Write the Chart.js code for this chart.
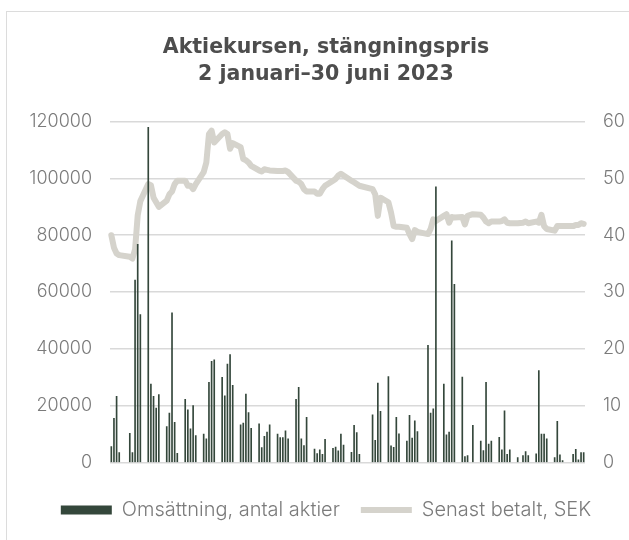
<!DOCTYPE html>
<html lang="sv">
<head>
  <meta charset="UTF-8" />
  <title>Aktiekursen</title>
  <script src="https://cdn.jsdelivr.net/npm/chart.js"></script>
  <style>
    html, body { margin: 0; padding: 0; background: #fff; overflow: hidden; }
    .frame { position: absolute; left: 6px; top: 11px; width: 700px; height: 600px; border: 1px solid #dcdcdc; }
    #wrap { position: absolute; left: 0; top: 0; width: 652px; height: 540px; }
  </style>
</head>
<body>
  <div class="frame"></div>
  <div id="wrap"><canvas id="chart" width="652" height="540"></canvas></div>

  <script>
    // trading days (MM-DD), 2023
    const tradingDays = [
      '01-02','01-03','01-04','01-05',
      '01-09','01-10','01-11','01-12','01-13',
      '01-16','01-17','01-18','01-19','01-20',
      '01-23','01-24','01-25','01-26','01-27',
      '01-30','01-31','02-01','02-02','02-03',
      '02-06','02-07','02-08','02-09','02-10',
      '02-13','02-14','02-15','02-16','02-17',
      '02-20','02-21','02-22','02-23','02-24',
      '02-27','02-28','03-01','03-02','03-03',
      '03-06','03-07','03-08','03-09','03-10',
      '03-13','03-14','03-15','03-16','03-17',
      '03-20','03-21','03-22','03-23','03-24',
      '03-27','03-28','03-29','03-30','03-31',
      '04-03','04-04','04-05','04-06',
      '04-11','04-12','04-13','04-14',
      '04-17','04-18','04-19','04-20','04-21',
      '04-24','04-25','04-26','04-27','04-28',
      '05-02','05-03','05-04','05-05',
      '05-08','05-09','05-10','05-11','05-12',
      '05-15','05-16','05-17','05-19',
      '05-22','05-23','05-24','05-25','05-26',
      '05-29','05-30','05-31','06-01','06-02',
      '06-05','06-07','06-08','06-09',
      '06-12','06-13','06-14','06-15','06-16',
      '06-19','06-20','06-21','06-22',
      '06-26','06-27','06-28','06-29','06-30'
    ];

    // Omsättning, antal aktier
    const volume = [
      5600, 15600, 23300, 3500,
      10300, 3500, 64200, 76800, 52100,
      118000, 27600, 23300, 19200, 23900,
      12700, 17400, 52700, 14200, 3300,
      22300, 18600, 11900, 20100, 9500,
      10000, 8400, 28200, 35600, 36200,
      30000, 23500, 34700, 38000, 27200,
      13300, 13900, 24100, 17600, 12100,
      13600, 5300, 9200, 10700, 13300,
      10000, 8800, 8800, 11200, 8400,
      22300, 26500, 8400, 6000, 15900,
      4800, 3200, 4500, 2900, 8200,
      5000, 5500, 4100, 10000, 6200,
      3600, 13100, 10600, 2900,
      16800, 7800, 28000, 18000,
      30300, 5900, 5400, 15900, 10100,
      7600, 16600, 8600, 14700, 10900,
      41300, 17400, 18900, 97000,
      27600, 9800, 10700, 78000, 62700,
      30100, 2100, 2500, 13100,
      7600, 4200, 28200, 6500, 7600,
      8900, 4500, 18200, 2900, 4500,
      1800, 2500, 3900, 2500,
      3100, 32400, 10000, 10000, 8400,
      1800, 14500, 2700, 700,
      2900, 4700, 950, 3500, 3500
    ];

    // Senast betalt, SEK
    const price = [
      40.0, 37.8, 36.8, 36.5,
      36.2, 35.9, 37.5, 43.5, 46.0,
      49.0, 48.8, 46.6, 45.8, 45.0,
      46.1, 47.2, 47.7, 49.0, 49.6,
      49.6, 48.7, 48.7, 48.1, 49.0,
      51.1, 52.8, 57.8, 58.4, 56.3,
      57.8, 58.1, 57.8, 55.2, 56.2,
      55.5, 53.4, 53.2, 52.8, 52.2,
      51.4, 51.2, 51.6, 51.5, 51.4,
      51.3, 51.3, 51.3, 51.4, 51.1,
      49.6, 49.4, 49.0, 48.1, 47.7,
      47.7, 47.3, 47.3, 48.1, 48.7,
      49.6, 49.9, 50.5, 50.8, 50.5,
      49.6, 49.3, 49.0, 48.7,
      48.1, 47.2, 43.4, 46.6,
      45.8, 44.0, 41.6, 41.5, 41.5,
      41.3, 40.2, 39.3, 40.9, 40.6,
      40.2, 41.1, 42.8, 42.5,
      43.4, 43.7, 42.2, 43.2, 43.1,
      43.2, 41.9, 43.4, 43.7,
      43.6, 43.1, 42.4, 42.1, 42.4,
      42.4, 42.5, 42.8, 42.2, 42.1,
      42.1, 42.2, 42.4, 42.1,
      42.4, 42.2, 43.6, 41.6, 41.1,
      40.8, 41.6, 41.6, 41.6,
      41.6, 41.8, 41.8, 42.1, 42.0
    ];

    const leftTicks = [0, 20000, 40000, 60000, 80000, 100000, 120000];
    const rightTicks = [0, 10, 20, 30, 40, 50, 60];

    // every calendar day on the axis, weekends/holidays left empty
    const labels = [];
    const volData = [];
    const priceData = [];
    const d = new Date(2023, 0, 2);
    const end = new Date(2023, 5, 30);
    while (d <= end) {
      const key = String(d.getMonth() + 1).padStart(2, '0') + '-' + String(d.getDate()).padStart(2, '0');
      const i = tradingDays.indexOf(key);
      labels.push(key);
      volData.push(i >= 0 ? volume[i] : null);
      priceData.push(i >= 0 ? price[i] : null);
      d.setDate(d.getDate() + 1);
    }

    const tickFont = { family: 'Inter', size: 18, weight: '300' };
    const tickColor = '#7b7b7b';

    new Chart(document.getElementById('chart'), {
      type: 'bar',
      data: {
        labels,
        datasets: [
          {
            type: 'bar',
            label: 'Omsättning, antal aktier',
            data: volData,
            backgroundColor: '#34473b',
            barThickness: 1,
            yAxisID: 'y',
            order: 1,
            pointStyle: 'rect'
          },
          {
            type: 'line',
            label: 'Senast betalt, SEK',
            data: priceData,
            borderColor: '#d5d3cc',
            backgroundColor: '#d5d3cc',
            borderWidth: 6,
            borderCapStyle: 'round',
            borderJoinStyle: 'round',
            pointRadius: 0,
            tension: 0,
            spanGaps: true,
            yAxisID: 'y1',
            order: 2,
            pointStyle: 'line'
          }
        ]
      },
      options: {
        responsive: false,
        animation: false,
        layout: { padding: { bottom: 10 } },
        plugins: {
          title: {
            display: true,
            text: ['Aktiekursen, stängningspris', '2 januari–30 juni 2023'],
            color: '#4d4d4d',
            font: { family: 'DejaVu Sans', size: 20.5, weight: 'bold', lineHeight: 1.33 },
            padding: { top: 34, bottom: 33 }
          },
          legend: {
            position: 'bottom',
            labels: {
              usePointStyle: true,
              pointStyleWidth: 51,
              boxHeight: 9,
              color: tickColor,
              font: { family: 'Inter', size: 20, weight: '300' },
              padding: 21
            }
          },
          tooltip: { enabled: false }
        },
        scales: {
          x: {
            ticks: { display: false },
            grid: { display: false },
            border: { display: false },
            afterFit: s => { s.height = 16.4; }
          },
          y: {
            position: 'left',
            min: 0,
            max: 120000,
            afterBuildTicks: s => { s.ticks = leftTicks.map(v => ({ value: v })); },
            ticks: { color: tickColor, font: tickFont, padding: 18, callback: v => String(v) },
            grid: { color: '#d9d9d9', lineWidth: 1.5, drawTicks: false },
            border: { display: false },
            afterFit: s => { s.width = 110; }
          },
          y1: {
            position: 'right',
            min: 0,
            max: 60,
            afterBuildTicks: s => { s.ticks = rightTicks.map(v => ({ value: v })); },
            ticks: { color: tickColor, font: tickFont, padding: 18, callback: v => String(v) },
            grid: { display: false, drawTicks: false },
            border: { display: false },
            afterFit: s => { s.width = 67; }
          }
        }
      }
    });
  </script>
</body>
</html>
